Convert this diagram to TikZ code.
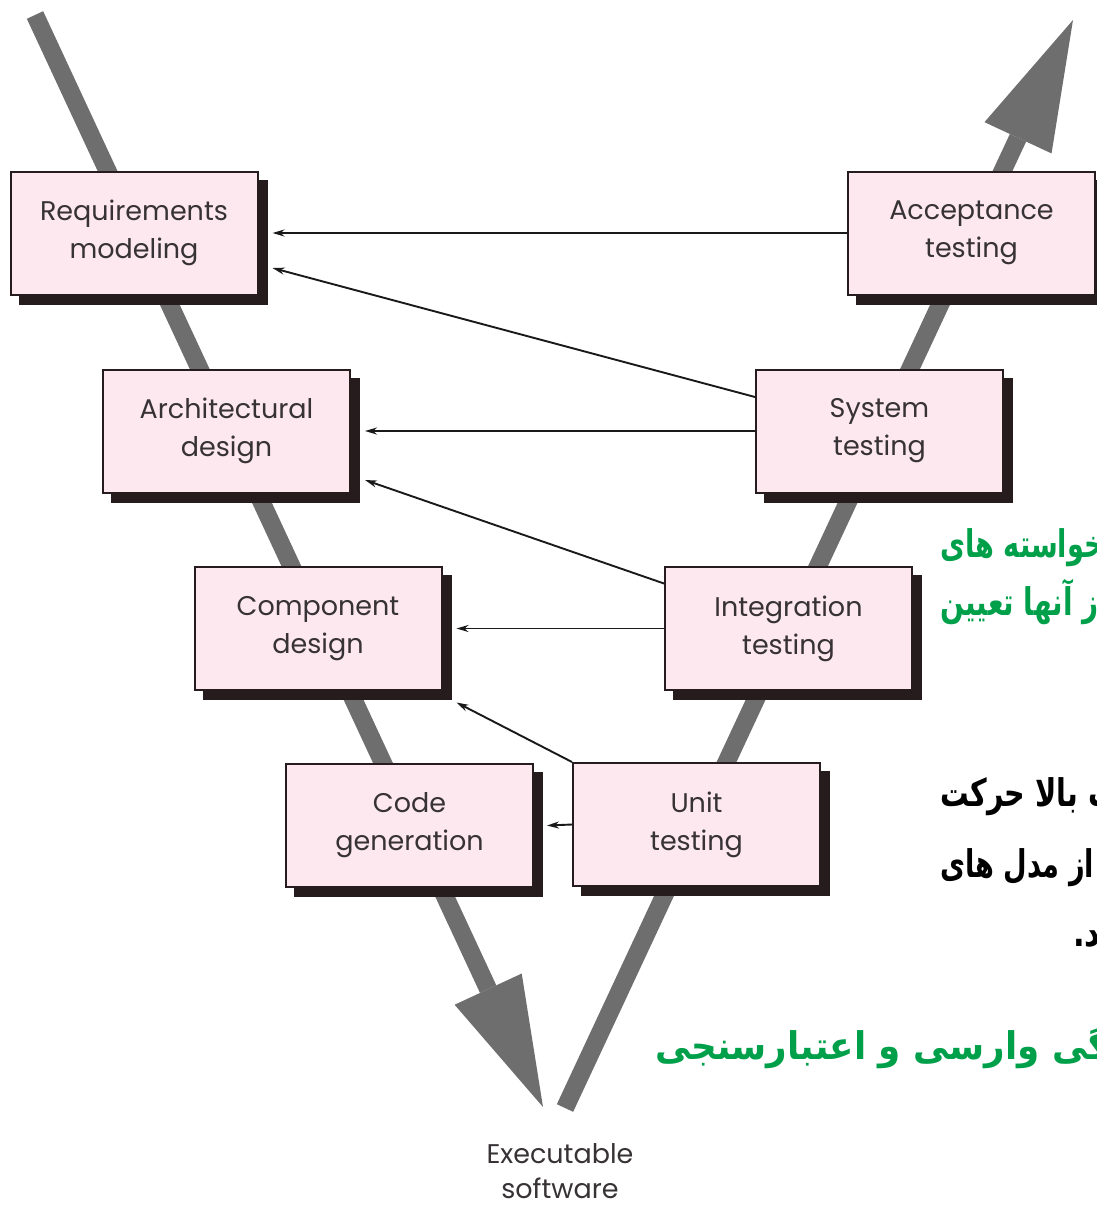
\documentclass[tikz,border=0pt]{standalone}
\usepackage{fontspec}
\setmainfont{Poppins}
\newfontfamily\farsi[Script=Arabic]{DejaVu Sans}
\TeXXeTstate=1
\usetikzlibrary{arrows.meta,calc,shadows}

\definecolor{bandgray}{RGB}{110,110,110}
\definecolor{boxfill}{RGB}{252,232,238}
\definecolor{boxline}{RGB}{38,28,30}
\definecolor{labeltext}{RGB}{55,50,53}
\definecolor{farsigreen}{RGB}{0,160,75}

\tikzset{
  phase/.style={
    draw=boxline, line width=2pt, fill=boxfill,
    minimum width=247pt, minimum height=123pt,
    inner sep=0pt, align=center, text=labeltext,
    font=\fontsize{27}{38}\selectfont,
    copy shadow={shadow xshift=9pt, shadow yshift=-9pt,
                 fill=boxline, draw=boxline}
  },
  conn/.style={draw=black!90, line width=1.9pt,
    -{Stealth[length=12pt,width=7pt]}},
  band/.style={draw=bandgray, line width=18pt},
  bandhead/.style={fill=bandgray, draw=none},
  note/.style={anchor=base west, inner sep=0pt,
    font=\farsi\bfseries\fontsize{34}{40}\selectfont}
}

\begin{document}
\begin{tikzpicture}[x=1pt, y=-1pt]
\useasboundingbox (0,0) rectangle (1097,1205);
\clip (0,0) rectangle (1097,1205);

% the two gray bands of the V
\coordinate (lstart) at (35,15);
\coordinate (ltip)   at (543,1107);
\coordinate (lbase)  at ($(ltip)!130pt!(lstart)$);
\draw[band] (lstart) -- (lbase);
\fill[bandhead] (ltip) -- ($(lbase)!37pt!90:(ltip)$) -- ($(lbase)!37pt!-90:(ltip)$) -- cycle;

\coordinate (rstart) at (565,1108);
\coordinate (rtip)   at (1073,20);
\coordinate (rbase)  at ($(rtip)!130pt!(rstart)$);
\draw[band] (rstart) -- (rbase);
\fill[bandhead] (rtip) -- ($(rbase)!37pt!90:(rtip)$) -- ($(rbase)!37pt!-90:(rtip)$) -- cycle;

% phases, left arm
\node[phase] (req)  at (134,233) {Requirements\\modeling};
\node[phase] (arch) at (226.5,431) {Architectural\\design};
\node[phase] (comp) at (318,628.5) {Component\\design};
\node[phase] (code) at (409.5,825.5) {Code\\generation};

% phases, right arm
\node[phase] (acc)  at (971.5,233) {Acceptance\\testing};
\node[phase] (sys)  at (879.5,431) {System\\testing};
\node[phase] (intg) at (788.5,628.5) {Integration\\testing};
\node[phase] (unit) at (696.5,824.5) {Unit\\testing};

% test-to-model links
\draw[conn] (acc.west) -- ([xshift=14pt]req.east);
\draw[conn] ([yshift=34pt]sys.west) -- ([xshift=14pt,yshift=-35pt]req.east);
\draw[conn] (sys.west) -- ([xshift=14pt]arch.east);
\draw[conn] ([yshift=45pt]intg.west) -- ([xshift=14pt,yshift=-49pt]arch.east);
\draw[conn] (intg.west) -- ([xshift=14pt]comp.east);
\draw[conn] (unit.north west) -- ([xshift=14pt,yshift=-74pt]comp.east);
\draw[conn] (unit.west) -- ([xshift=13pt]code.east);

% end product
\node[align=center, text=labeltext, font=\fontsize{27}{35}\selectfont,
      anchor=base, inner sep=0pt] (exe) at (560,1198) {Executable\\software};

% notes at the right margin (each line stretched to the width it takes there)
\node[note, text=farsigreen] (n1) at (940,557) {\scalebox{0.8}[1.12]{\beginR خواسته های\endR}};
\node[note, text=farsigreen] (n2) at (940,615) {\scalebox{0.82}[1.12]{\beginR از آنها تعیین\endR}};
\node[note, text=black] (n3) at (940,806) {\scalebox{0.84}[1.12]{\beginR سمت بالا حرکت\endR}};
\node[note, text=black] (n4) at (940,877) {\scalebox{0.8}[1.12]{\beginR از مدل های\endR}};
\node[note, text=black] (n5) at (1073,946) {\scalebox{0.9}[1.12]{\beginR شود.\endR}};
\node[note, text=farsigreen] (n6) at (655,1059) {\scalebox{1.05}[1.12]{\beginR ویژگی وارسی و اعتبارسنجی\endR}};
\end{tikzpicture}
\end{document}
